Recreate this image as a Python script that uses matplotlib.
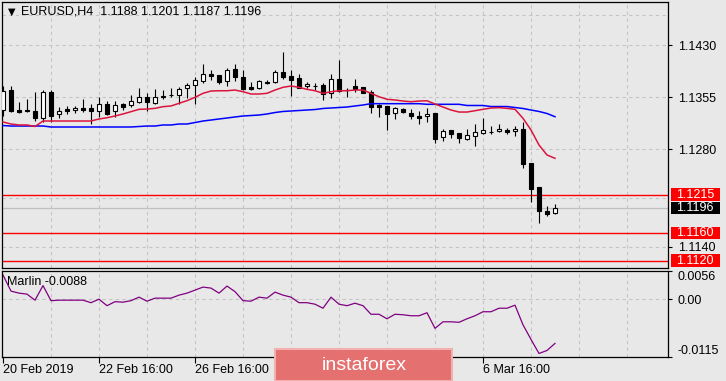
import matplotlib
matplotlib.use('Agg')
import matplotlib.pyplot as plt
import matplotlib.transforms as mtransforms
from matplotlib.patches import Rectangle
import numpy as np

# EURUSD H4 candles, 20 Feb 2019 16:00 onwards
opens = [1.13373, 1.13653, 1.13366, 1.13366, 1.13352, 1.13255, 1.13629, 1.13304, 1.13380, 1.13362,
         1.13390, 1.13390, 1.13347, 1.13452, 1.13356, 1.13448, 1.13433, 1.13485, 1.13548, 1.13462,
         1.13553, 1.13576, 1.13582, 1.13678, 1.13721, 1.13783, 1.13883, 1.13869, 1.13778, 1.13951,
         1.13840, 1.13697, 1.13678, 1.13773, 1.13764, 1.13908, 1.13855, 1.13830, 1.13711, 1.13711,
         1.13721, 1.13606, 1.13807, 1.13649, 1.13711, 1.13692, 1.13625, 1.13433, 1.13424, 1.13319,
         1.13376, 1.13327, 1.13280, 1.13276, 1.13323, 1.12974, 1.13074, 1.13036, 1.12954, 1.12988,
         1.13031, 1.13054, 1.13060, 1.13079, 1.13060, 1.13093, 1.12605, 1.12260, 1.11911, 1.11880]
highs = [1.13711, 1.13711, 1.13481, 1.13520, 1.13629, 1.13653, 1.13653, 1.13409, 1.13424, 1.13424,
         1.13524, 1.13452, 1.13548, 1.13491, 1.13491, 1.13462, 1.13582, 1.13678, 1.13606, 1.13663,
         1.13653, 1.13678, 1.13692, 1.13758, 1.13836, 1.14027, 1.13941, 1.13869, 1.13974, 1.14027,
         1.13941, 1.13764, 1.13797, 1.13797, 1.13941, 1.14199, 1.13941, 1.13883, 1.13764, 1.13758,
         1.13750, 1.13883, 1.14084, 1.13678, 1.13807, 1.13700, 1.13653, 1.13452, 1.13424, 1.13414,
         1.13390, 1.13376, 1.13356, 1.13390, 1.13323, 1.13089, 1.13074, 1.13036, 1.13089, 1.13161,
         1.13251, 1.13136, 1.13169, 1.13112, 1.13136, 1.13194, 1.12605, 1.12260, 1.11987, 1.12010]
lows = [1.13287, 1.13342, 1.13319, 1.13337, 1.13212, 1.13198, 1.13198, 1.13255, 1.13309, 1.13323,
        1.13342, 1.13160, 1.13270, 1.13294, 1.13270, 1.13366, 1.13405, 1.13471, 1.13356, 1.13448,
        1.13528, 1.13548, 1.13452, 1.13534, 1.13448, 1.13750, 1.13797, 1.13744, 1.13711, 1.13787,
        1.13653, 1.13653, 1.13663, 1.13735, 1.13750, 1.13807, 1.13572, 1.13678, 1.13678, 1.13653,
        1.13510, 1.13543, 1.13629, 1.13549, 1.13629, 1.13606, 1.13327, 1.13270, 1.13079, 1.13241,
        1.13319, 1.13241, 1.13160, 1.13198, 1.12896, 1.12925, 1.12968, 1.12896, 1.12935, 1.12853,
        1.13026, 1.13021, 1.13046, 1.13026, 1.12997, 1.12537, 1.12044, 1.11747, 1.11847, 1.11870]
closes = [1.13646, 1.13356, 1.13342, 1.13352, 1.13255, 1.13620, 1.13280, 1.13352, 1.13352, 1.13390,
          1.13362, 1.13352, 1.13452, 1.13309, 1.13433, 1.13414, 1.13491, 1.13548, 1.13481, 1.13548,
          1.13572, 1.13580, 1.13663, 1.13721, 1.13793, 1.13883, 1.13850, 1.13773, 1.13936, 1.13845,
          1.13672, 1.13672, 1.13778, 1.13750, 1.13908, 1.13845, 1.13797, 1.13686, 1.13735, 1.13715,
          1.13592, 1.13807, 1.13639, 1.13653, 1.13668, 1.13615, 1.13414, 1.13414, 1.13309, 1.13390,
          1.13333, 1.13284, 1.13255, 1.13309, 1.12954, 1.13060, 1.13026, 1.12968, 1.13007, 1.13046,
          1.13074, 1.13057, 1.13093, 1.13054, 1.13089, 1.12595, 1.12235, 1.11919, 1.11876, 1.11960]

ma_fast = [1.13194, 1.13165, 1.13151, 1.13151, 1.13129, 1.13208, 1.13208, 1.13208, 1.13208, 1.13208,
           1.13208, 1.13208, 1.13237, 1.13255, 1.13280, 1.13309, 1.13342, 1.13376, 1.13380, 1.13390,
           1.13414, 1.13424, 1.13462, 1.13500, 1.13548, 1.13606, 1.13639, 1.13643, 1.13643, 1.13653,
           1.13629, 1.13596, 1.13596, 1.13606, 1.13653, 1.13692, 1.13711, 1.13692, 1.13663, 1.13643,
           1.13606, 1.13629, 1.13643, 1.13643, 1.13653, 1.13653, 1.13606, 1.13557, 1.13520, 1.13510,
           1.13495, 1.13485, 1.13495, 1.13499, 1.13452, 1.13409, 1.13366, 1.13337, 1.13337, 1.13356,
           1.13376, 1.13395, 1.13400, 1.13390, 1.13376, 1.13247, 1.13079, 1.12863, 1.12720, 1.12672]
ma_slow = [1.13143, 1.13136, 1.13136, 1.13136, 1.13136, 1.13136, 1.13122, 1.13122, 1.13122, 1.13122,
           1.13122, 1.13122, 1.13122, 1.13122, 1.13122, 1.13122, 1.13122, 1.13129, 1.13136, 1.13136,
           1.13151, 1.13151, 1.13165, 1.13165, 1.13186, 1.13208, 1.13222, 1.13237, 1.13251, 1.13266,
           1.13280, 1.13287, 1.13294, 1.13309, 1.13330, 1.13345, 1.13352, 1.13359, 1.13366, 1.13373,
           1.13388, 1.13395, 1.13402, 1.13409, 1.13424, 1.13438, 1.13457, 1.13457, 1.13457, 1.13457,
           1.13457, 1.13457, 1.13457, 1.13448, 1.13448, 1.13448, 1.13448, 1.13448, 1.13431, 1.13431,
           1.13431, 1.13416, 1.13416, 1.13416, 1.13402, 1.13388, 1.13366, 1.13345, 1.13316, 1.13270]

marlin = [0.0048, 0.0016, 0.0012, 0.0010, -0.0002, 0.0027, -0.0003, -0.0002, -0.0002, -0.0002,
          -0.0002, -0.0007, 0.0000, -0.0013, -0.0005, -0.0006, -0.0003, 0.0004, -0.0004, 0.0002,
          0.0002, 0.0002, 0.0008, 0.0012, 0.0018, 0.0024, 0.0022, 0.0012, 0.0026, 0.0015,
          -0.0003, -0.0004, 0.0004, 0.0002, 0.0014, 0.0008, 0.0004, -0.0007, -0.0007, -0.0010,
          -0.0018, 0.0004, -0.0010, -0.0013, -0.0008, -0.0013, -0.0030, -0.0030, -0.0039, -0.0030,
          -0.0031, -0.0033, -0.0033, -0.0027, -0.0058, -0.0045, -0.0045, -0.0046, -0.0039, -0.0033,
          -0.0025, -0.0025, -0.0018, -0.0018, -0.0012, -0.0051, -0.0080, -0.0108, -0.0102, -0.0088]

levels = [1.1215, 1.1160, 1.1120]
price_ticks = [1.1430, 1.1355, 1.1280, 1.1140]
price_grid = [1.1473, 1.1430, 1.1355, 1.1280, 1.1210, 1.1140]
# labels at bars 36 and 48 sit under the watermark, so only their ticks remain
date_bars = [0, 12, 24, 36, 48, 60]
date_labels = ['20 Feb 2019', '22 Feb 16:00', '26 Feb 16:00', '', '', '6 Mar 16:00']
marlin_ticks = [0.0056, 0.0, -0.0115]
marlin_labels = ['0.0056', '0.00', '-0.0115']

bg = '#e8e8e8'
grid_col = '#c4c4c4'
plt.rcParams['font.family'] = ['Liberation Sans', 'DejaVu Sans']
plt.rcParams['font.size'] = 9

W, H = 726, 381
fig = plt.figure(figsize=(W / 100, H / 100), dpi=100, facecolor=bg)
ax = fig.add_axes([2 / W, 1 - 268 / H, 666 / W, 266 / H], facecolor=bg)
ax2 = fig.add_axes([2 / W, 1 - 357 / H, 666 / W, 86 / H], facecolor=bg, sharex=ax)

x = np.arange(len(closes))
o = np.array(opens)
c = np.array(closes)

# grid
for b in range(6, 84, 6):
    ax.axvline(b, color=grid_col, lw=0.8, ls=(0, (3, 3)), zorder=0)
    ax2.axvline(b, color=grid_col, lw=0.8, ls=(0, (3, 3)), zorder=0)
for p in price_grid:
    ax.axhline(p, color=grid_col, lw=0.8, ls=(0, (3, 3)), zorder=0)
ax2.axhline(0, color=grid_col, lw=0.8, ls=(0, (3, 3)), zorder=0)

# levels and bid line
for lv in levels:
    ax.axhline(lv, color='#ff0000', lw=1.0, zorder=1)
ax.axhline(closes[-1], color='#c0c0c0', lw=0.9, zorder=1)

# candles
ax.vlines(x, lows, highs, color='black', lw=0.8, zorder=2)
body = np.maximum(np.abs(c - o), 0.00003)
ax.bar(x, body, bottom=np.minimum(o, c), width=0.6,
       color=['white' if cc >= oo else 'black' for oo, cc in zip(o, c)],
       edgecolor='black', linewidth=0.8, zorder=3)

ax.plot(x, ma_slow, color='#0000ff', lw=1.1, zorder=4)
ax.plot(x, ma_fast, color='#dc143c', lw=1.1, zorder=4)

ax.set_xlim(-0.125, 83.125)
ax.set_ylim(1.11096, 1.14918)
ax.yaxis.tick_right()
ax.set_yticks(price_ticks)
ax.set_yticklabels(['%.4f' % p for p in price_ticks])
ax.tick_params(axis='y', direction='out', length=3, pad=4, width=0.8)
ax.tick_params(axis='x', bottom=False, labelbottom=False)
for s in ax.spines.values():
    s.set_linewidth(0.9)

# price boxes on the right axis
tr = mtransforms.blended_transform_factory(ax.transAxes, ax.transData)
box_h = 0.00182
boxes = [(lv, '#ff0000') for lv in levels] + [(closes[-1], '#000000')]
for val, col in boxes:
    ax.add_patch(Rectangle((1.0045, val - box_h / 2), 0.0735, box_h, transform=tr,
                           facecolor=col, edgecolor='none', clip_on=False, zorder=6))
    ax.text(1.012, val, '%.4f' % val, transform=tr, color='white', va='center', ha='left',
            zorder=7, clip_on=False)

# indicator
ax2.plot(x, marlin, color='#800080', lw=0.9)
ax2.set_ylim(-0.0115, 0.0056)
ax2.yaxis.tick_right()
ax2.set_yticks(marlin_ticks)
ax2.set_yticklabels(marlin_labels)
ax2.tick_params(axis='y', direction='out', length=3, pad=4, width=0.8)
lbls = ax2.get_yticklabels()
lbls[0].set_va('top')
lbls[-1].set_va('bottom')
ax2.set_xticks(date_bars)
ax2.set_xticklabels(date_labels, ha='left')
ax2.tick_params(axis='x', direction='out', length=4, pad=1, width=0.8)
for s in ax2.spines.values():
    s.set_linewidth(0.9)
ax2.text(0.008, 0.872, 'Marlin %.4f' % marlin[-1], transform=ax2.transAxes, va='center', ha='left')

# header
fig.text(8 / W, 1 - 12 / H, '\u25bc', fontsize=7, va='center', ha='left', family=['DejaVu Sans'])
fig.text(21 / W, 1 - 12 / H, 'EURUSD,H4  %.4f %.4f %.4f %.4f' % (opens[-1], highs[-1], lows[-1], closes[-1]),
         va='center', ha='left')

# watermark
fig.add_artist(Rectangle((275 / W, 0), 177 / W, 32 / H, transform=fig.transFigure,
                         facecolor='#e57070', edgecolor='#f2b0b0', lw=1.5))
fig.text(364 / W, 1 - 366 / H, 'instaforex', color='white', fontsize=14, ha='center', va='center')

fig.savefig('out.png', dpi=100, facecolor=bg)
